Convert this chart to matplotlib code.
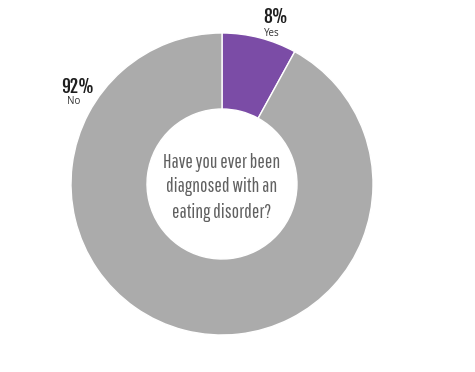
import matplotlib.pyplot as plt

# data
labels = ['Yes', 'No']
values = [8, 92]
pct_labels = ['8%', '92%']
colors = ['#7b4ca6', '#ababab']
question = 'Have you ever been\ndiagnosed with an\neating disorder?'

fig = plt.figure(figsize=(4.75, 3.72), dpi=100)
ax = fig.add_axes([0, 0, 1, 1])

ax.pie(values, colors=colors, startangle=90, counterclock=False,
       center=(222, 188), radius=151, frame=True,
       wedgeprops=dict(width=76, edgecolor='white', linewidth=1))
ax.set_xlim(0, 475)
ax.set_ylim(0, 372)
ax.set_aspect('equal')
ax.axis('off')

# slice labels
pos = [(276, 355, 339), (78, 285, 270)]
for (x, y1, y2), p, l in zip(pos, pct_labels, labels):
    ax.text(x, y1, p, ha='center', va='center', fontsize=12.5,
            family='Fjalla One', color='#1e1e1e')
    ax.text(x - 4, y2, l, ha='center', va='center', fontsize=7,
            family='Open Sans', color='#333333')

ax.text(222, 185, question, ha='center', va='center', fontsize=14,
        family='Pathway Gothic One', color='#606060', linespacing=1.4)

plt.savefig('out.png', dpi=100)
